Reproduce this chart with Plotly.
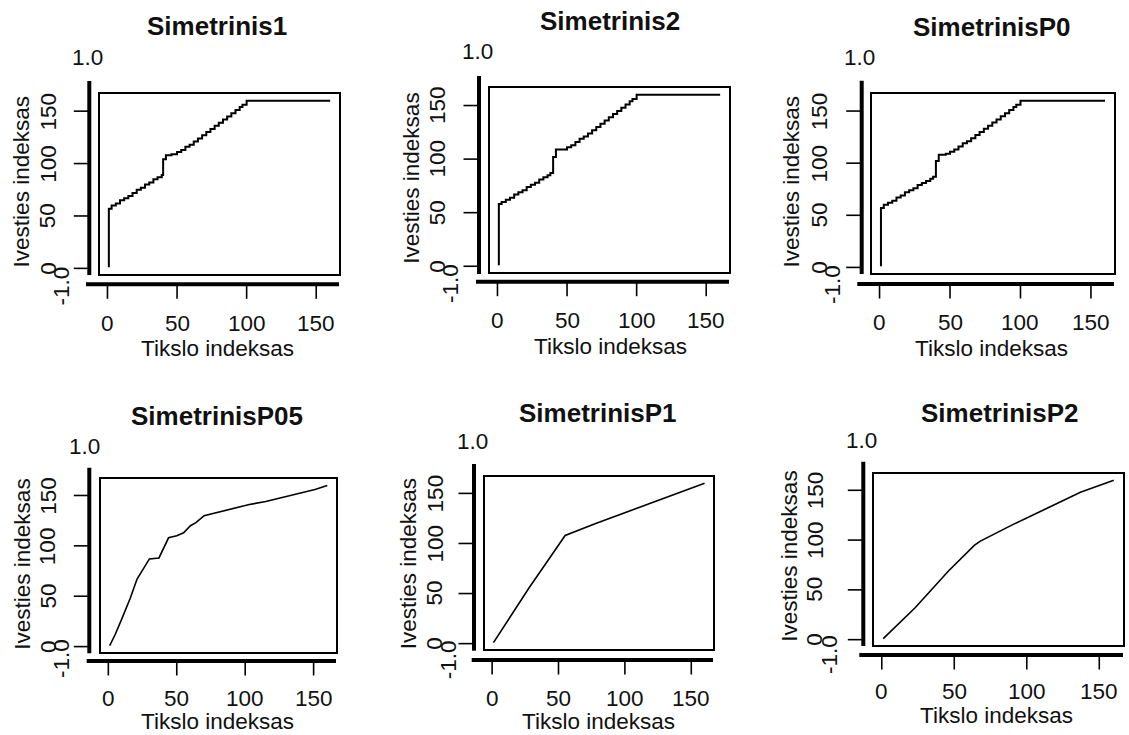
import plotly.graph_objects as go

W, H = 1129, 735

panel_titles = ["Simetrinis1", "Simetrinis2", "SimetrinisP0",
                "SimetrinisP05", "SimetrinisP1", "SimetrinisP2"]

# Warping paths: target index (x) against input index (y)
sim1_x = [1, 1, 3, 6, 9, 12, 15, 18, 21, 24, 27, 30, 33, 36, 39, 40, 40, 42, 46, 50,
          53, 56, 59, 62, 65, 68, 71, 74, 77, 80, 83, 86, 89, 92, 95, 97, 100, 160]
sim1_y = [1, 57, 60, 62, 65, 67, 69, 72, 75, 77, 80, 82, 85, 87, 89, 91, 104, 108, 109, 111,
          113, 116, 118, 121, 124, 127, 130, 133, 136, 139, 142, 145, 148, 151, 154, 156, 160, 160]

sim2_x = [1, 1, 3, 6, 9, 12, 15, 18, 21, 24, 27, 30, 33, 36, 38, 40, 40, 42, 47, 50,
          53, 56, 59, 62, 65, 68, 71, 74, 77, 80, 83, 86, 89, 92, 95, 97, 100, 160]
sim2_y = [1, 58, 60, 62, 64, 67, 69, 71, 74, 76, 78, 81, 83, 85, 87, 88, 102, 109, 109, 111,
          113, 116, 119, 121, 124, 127, 130, 133, 136, 139, 142, 145, 148, 151, 154, 156, 160, 160]

p0_x = [1, 1, 3, 6, 9, 12, 15, 18, 21, 24, 27, 30, 33, 36, 38, 40, 40, 42, 47, 50,
        53, 56, 59, 62, 65, 68, 71, 74, 77, 80, 83, 86, 89, 92, 95, 97, 100, 160]
p0_y = [1, 57, 60, 62, 64, 67, 69, 72, 74, 76, 79, 81, 83, 85, 87, 88, 102, 108, 109, 111,
        113, 116, 119, 121, 124, 127, 130, 133, 136, 139, 142, 145, 148, 151, 154, 156, 160, 160]

p05_x = [1, 5, 10, 16, 21, 26, 30, 37, 40, 44, 50, 55, 60, 64, 70, 79, 91, 103, 115, 127, 139, 151, 160]
p05_y = [1, 12, 28, 48, 67, 78, 87, 88, 97, 108, 110, 113, 120, 123, 130, 133, 137, 141, 144, 148, 152, 156, 160]

p1_x = [1, 15, 28, 41, 50, 55, 78, 103, 128, 160]
p1_y = [1, 30, 56, 81, 99, 108, 120, 132, 144, 160]

p2_x = [1, 23, 46, 64, 68, 91, 114, 137, 160]
p2_y = [1, 32, 69, 95, 99, 116, 132, 148, 160]

paths_x = [sim1_x, sim2_x, p0_x, p05_x, p1_x, p2_x]
paths_y = [sim1_y, sim2_y, p0_y, p05_y, p1_y, p2_y]
stepped = [True, True, True, False, False, False]

x_tick_vals = [0, 50, 100, 150]
x_tick_text = ["0", "50", "100", "150"]
y_tick_vals = [0, 50, 100, 150]
y_tick_text = ["0", "50", "100", "150"]
side_top_text = "1.0"
side_bottom_text = "-1.0"
x_title = "Tikslo indeksas"
y_title = "Ivesties indeksas"
axis_range = [-5.36, 166.36]

# Pixel geometry of each panel
panels = [
    dict(box=(100, 339, 94, 274), vx=89.3, vy=(81, 275), hy=284.3, hx0=86,
         title=(217.3, 26), one=(87.3, 57.3), neg=(60.5, 286), xlab=323,
         xt=(218, 348), ylab=48.3, yt=(21.7, 181.7)),
    dict(box=(490, 729, 88, 272), vx=479, vy=(76, 274), hy=281.7, hx0=476,
         title=(610, 20.7), one=(477.7, 51.7), neg=(450, 283), xlab=320,
         xt=(610, 346.7), ylab=437.5, yt=(411.7, 178)),
    dict(box=(872, 1114, 94, 273), vx=861.7, vy=(80.7, 274), hy=284, hx0=857.3,
         title=(991.7, 26.7), one=(859.3, 57.3), neg=(832.5, 284.5), xlab=322.7,
         xt=(991.7, 348.3), ylab=819.3, yt=(791.7, 181.7)),
    dict(box=(101, 336, 479, 652), vx=89.3, vy=(467.7, 653.3), hy=661, hx0=86.7,
         title=(216.7, 416), one=(84, 446), neg=(61.5, 658.5), xlab=698.3,
         xt=(218, 721.7), ylab=48.3, yt=(21.7, 564)),
    dict(box=(485, 713, 477, 649), vx=474, vy=(464, 650.7), hy=660, hx0=471.7,
         title=(598.3, 413.3), one=(472.7, 441.7), neg=(448.3, 660), xlab=698.3,
         xt=(598.3, 721.7), ylab=435, yt=(408.3, 564)),
    dict(box=(874, 1123, 474, 645), vx=863.3, vy=(461.7, 646), hy=655, hx0=859.3,
         title=(1000, 412.7), one=(861, 440), neg=(829, 655), xlab=691.7,
         xt=(996.7, 715), ylab=815, yt=(790, 556.7)),
]


def fx(px):
    return px / W


def fy(py):
    return 1 - py / H


FONT = "Liberation Sans, Arial, sans-serif"
TXT = "#111111"
TICK_LEN = 14.5
LABEL_SIZE = 22.5
TITLE_SIZE = 26

fig = go.Figure()
layout = dict(
    width=W, height=H, autosize=False,
    margin=dict(l=0, r=0, t=0, b=0, pad=0),
    paper_bgcolor="white", plot_bgcolor="white",
    showlegend=False,
)
shapes = []
annotations = []


def ann(text, x, y, xref="paper", yref="paper", size=LABEL_SIZE, angle=0):
    annotations.append(dict(
        text=text, x=x, y=y, xref=xref, yref=yref, showarrow=False,
        xanchor="center", yanchor="middle", textangle=angle,
        font=dict(family=FONT, size=size, color=TXT),
    ))


for i, p in enumerate(panels):
    n = i + 1
    sx = "" if n == 1 else str(n)
    xr, yr = "x" + sx, "y" + sx
    L, R, T, B = p["box"]

    fig.add_trace(go.Scatter(
        x=paths_x[i], y=paths_y[i], mode="lines",
        line=dict(color="black", width=2 if stepped[i] else 1.6,
                  shape="hv" if stepped[i] else "linear"),
        xaxis=xr, yaxis=yr, hoverinfo="skip",
    ))

    common = dict(range=axis_range, showgrid=False, zeroline=False,
                  showticklabels=False, ticks="", showline=True, mirror=True,
                  linecolor="black", linewidth=1.8, fixedrange=True)
    layout["xaxis" + sx] = dict(domain=[fx(L), fx(R)], anchor=yr, **common)
    layout["yaxis" + sx] = dict(domain=[fy(B), fy(T)], anchor=xr, **common)

    # heavy offset axis lines
    shapes.append(dict(type="line", xref="paper", yref="paper",
                       x0=fx(p["vx"]), x1=fx(p["vx"]),
                       y0=fy(p["vy"][0]), y1=fy(p["vy"][1]),
                       line=dict(color="black", width=4)))
    shapes.append(dict(type="line", xref="paper", yref="paper",
                       x0=fx(p["hx0"]), x1=fx(R),
                       y0=fy(p["hy"]), y1=fy(p["hy"]),
                       line=dict(color="black", width=4)))

    # x ticks and labels
    for v, t in zip(x_tick_vals, x_tick_text):
        shapes.append(dict(type="line", xref=xr, yref="paper",
                           x0=v, x1=v, y0=fy(p["hy"]), y1=fy(p["hy"] + TICK_LEN),
                           line=dict(color="black", width=1.6)))
        ann(t, v, fy(p["xlab"]), xref=xr)

    # y ticks and labels
    for v, t in zip(y_tick_vals, y_tick_text):
        shapes.append(dict(type="line", xref="paper", yref=yr,
                           x0=fx(p["vx"]), x1=fx(p["vx"] - TICK_LEN - 1),
                           y0=v, y1=v,
                           line=dict(color="black", width=1.6)))
        ann(t, fx(p["ylab"]), v, yref=yr, angle=-90)

    ann("<b>" + panel_titles[i] + "</b>", fx(p["title"][0]), fy(p["title"][1]), size=TITLE_SIZE)
    ann(side_top_text, fx(p["one"][0]), fy(p["one"][1]))
    ann(side_bottom_text, fx(p["neg"][0]), fy(p["neg"][1]), angle=-90)
    ann(x_title, fx(p["xt"][0]), fy(p["xt"][1]))
    ann(y_title, fx(p["yt"][0]), fy(p["yt"][1]), angle=-90)

layout["shapes"] = shapes
layout["annotations"] = annotations
fig.update_layout(**layout)

fig.write_html("out.html")
